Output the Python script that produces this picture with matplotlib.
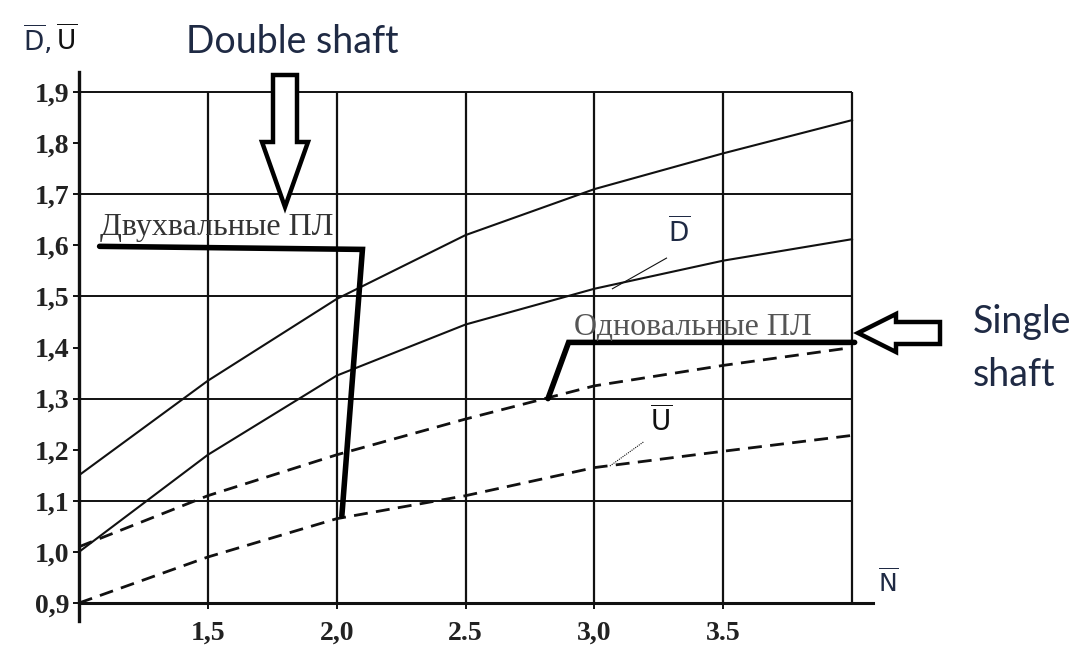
import numpy as np
import matplotlib
matplotlib.use("Agg")
import matplotlib.pyplot as plt
from matplotlib.patches import Polygon

# N values (x axis) and the four curves
n_vals = [1.0, 1.5, 2.0, 2.5, 3.0, 3.5, 4.0]
d_double = [1.15, 1.335, 1.495, 1.62, 1.71, 1.78, 1.845]   # D, double shaft (upper solid)
d_single = [1.00, 1.19, 1.345, 1.445, 1.515, 1.57, 1.612]  # D, single shaft (lower solid)
u_upper = [1.01, 1.11, 1.19, 1.26, 1.325, 1.365, 1.40]     # U, upper dashed
u_lower = [0.90, 0.99, 1.065, 1.11, 1.165, 1.197, 1.228]   # U, lower dashed

y_ticks = [0.9, 1.0, 1.1, 1.2, 1.3, 1.4, 1.5, 1.6, 1.7, 1.8, 1.9]
y_labels = ["0,9", "1,0", "1,1", "1,2", "1,3", "1,4", "1,5", "1,6", "1,7", "1,8", "1,9"]
x_ticks = [1.5, 2.0, 2.5, 3.0, 3.5]
x_labels = ["1,5", "2,0", "2.5", "3,0", "3.5"]
grid_y = [1.1, 1.3, 1.5, 1.7, 1.9]
grid_x = [1.5, 2.0, 2.5, 3.0, 3.5, 4.0]

W, H = 1085, 658
fig = plt.figure(figsize=(W / 100, H / 100), dpi=100)
ax = fig.add_axes([0.0728, 0.0564, 0.7315, 0.8348])
ax.set_xlim(1.0, 4.08)
ax.set_ylim(0.865, 1.94)


def px(x, y):
    # pixel position -> figure fraction
    return (x / W, 1 - y / H)


ink = "#111111"
navy = "#1f2a44"

# frame / grid
for s in ["top", "right"]:
    ax.spines[s].set_visible(False)
ax.spines["bottom"].set_position(("data", 0.9))
ax.spines["left"].set_linewidth(2.4)
ax.spines["bottom"].set_linewidth(2.2)
ax.spines["left"].set_color(ink)
ax.spines["bottom"].set_color(ink)
ax.hlines(grid_y, 1.0, 4.0, color=ink, lw=1.4)
ax.vlines(grid_x, 0.9, 1.9, color=ink, lw=1.6)

# curves
ax.plot(n_vals, d_double, color=ink, lw=1.5)
ax.plot(n_vals, d_single, color=ink, lw=1.5)
ax.plot(n_vals, u_upper, color=ink, lw=2.0, dashes=(5, 3))
ax.plot(n_vals, u_lower, color=ink, lw=2.0, dashes=(5, 3))

ax.set_yticks(y_ticks)
ax.set_yticklabels(y_labels)
ax.set_xticks(x_ticks)
ax.set_xticklabels(x_labels)
ax.tick_params(axis="both", direction="out", length=4, width=1.4, color=ink,
               labelsize=20, pad=3)
ax.tick_params(axis="x", pad=9)
for lab in ax.get_yticklabels() + ax.get_xticklabels():
    lab.set_family("Liberation Serif")
    lab.set_fontweight("bold")
    lab.set_color("#222222")

# leader labels on the curves
ax.plot([3.28, 3.07], [1.575, 1.515], color=ink, lw=0.8)
ax.text(3.33, 1.628, r"$\overline{\mathrm{D}}$", color=navy, fontsize=19,
        ha="center", va="center", family="Lato")
ax.plot([3.19, 3.06], [1.215, 1.168], color=ink, lw=0.8, ls=(0, (1, 1)))
ax.text(3.26, 1.255, r"$\overline{\mathrm{U}}$", color=ink, fontsize=20,
        ha="center", va="center")
ax.text(4.14, 0.94, r"$\overline{\mathrm{N}}$", color=navy, fontsize=18,
        ha="center", va="center", clip_on=False)

# Russian captions with thick pointer lines
ax.text(1.08, 1.635, "Двухвальные ПЛ", family="Liberation Serif", fontsize=23,
        color="#333333", ha="left", va="center")
ax.plot([1.08, 2.10, 2.02], [1.598, 1.592, 1.07], color="black", lw=4,
        solid_capstyle="round", solid_joinstyle="miter")
ax.text(2.92, 1.44, "Одновальные ПЛ", family="Liberation Serif", fontsize=23,
        color="#555555", ha="left", va="center")
ax.plot([2.82, 2.90, 4.01], [1.30, 1.41, 1.41], color="black", lw=4,
        solid_capstyle="round", solid_joinstyle="miter")

# axis caption top-left
fig.text(*px(37, 40), r"$\overline{\mathrm{D}}$,", color=navy, fontsize=19,
         ha="center", va="center")
fig.text(*px(67, 40), r"$\overline{\mathrm{U}}$", color=ink, fontsize=19,
         ha="center", va="center")

# English annotations with hollow arrows
fig.text(*px(292, 42), "Double shaft", family="Lato", fontsize=27, color=navy,
         ha="center", va="center")
fig.text(*px(973, 322), "Single", family="Lato", fontsize=27, color=navy,
         ha="left", va="center")
fig.text(*px(973, 375), "shaft", family="Lato", fontsize=27, color=navy,
         ha="left", va="center")

down_arrow = [(273, 75), (297, 75), (297, 142), (308, 142), (285, 207),
              (262, 142), (273, 142)]
left_arrow = [(858, 333), (896, 314), (896, 322), (940, 322), (940, 344),
              (896, 344), (896, 352)]
for pts in [down_arrow, left_arrow]:
    fig.add_artist(Polygon([px(x, y) for x, y in pts], closed=True,
                           transform=fig.transFigure, facecolor="white",
                           edgecolor="black", lw=3.2, joinstyle="miter"))

fig.savefig("out.png", dpi=100)
